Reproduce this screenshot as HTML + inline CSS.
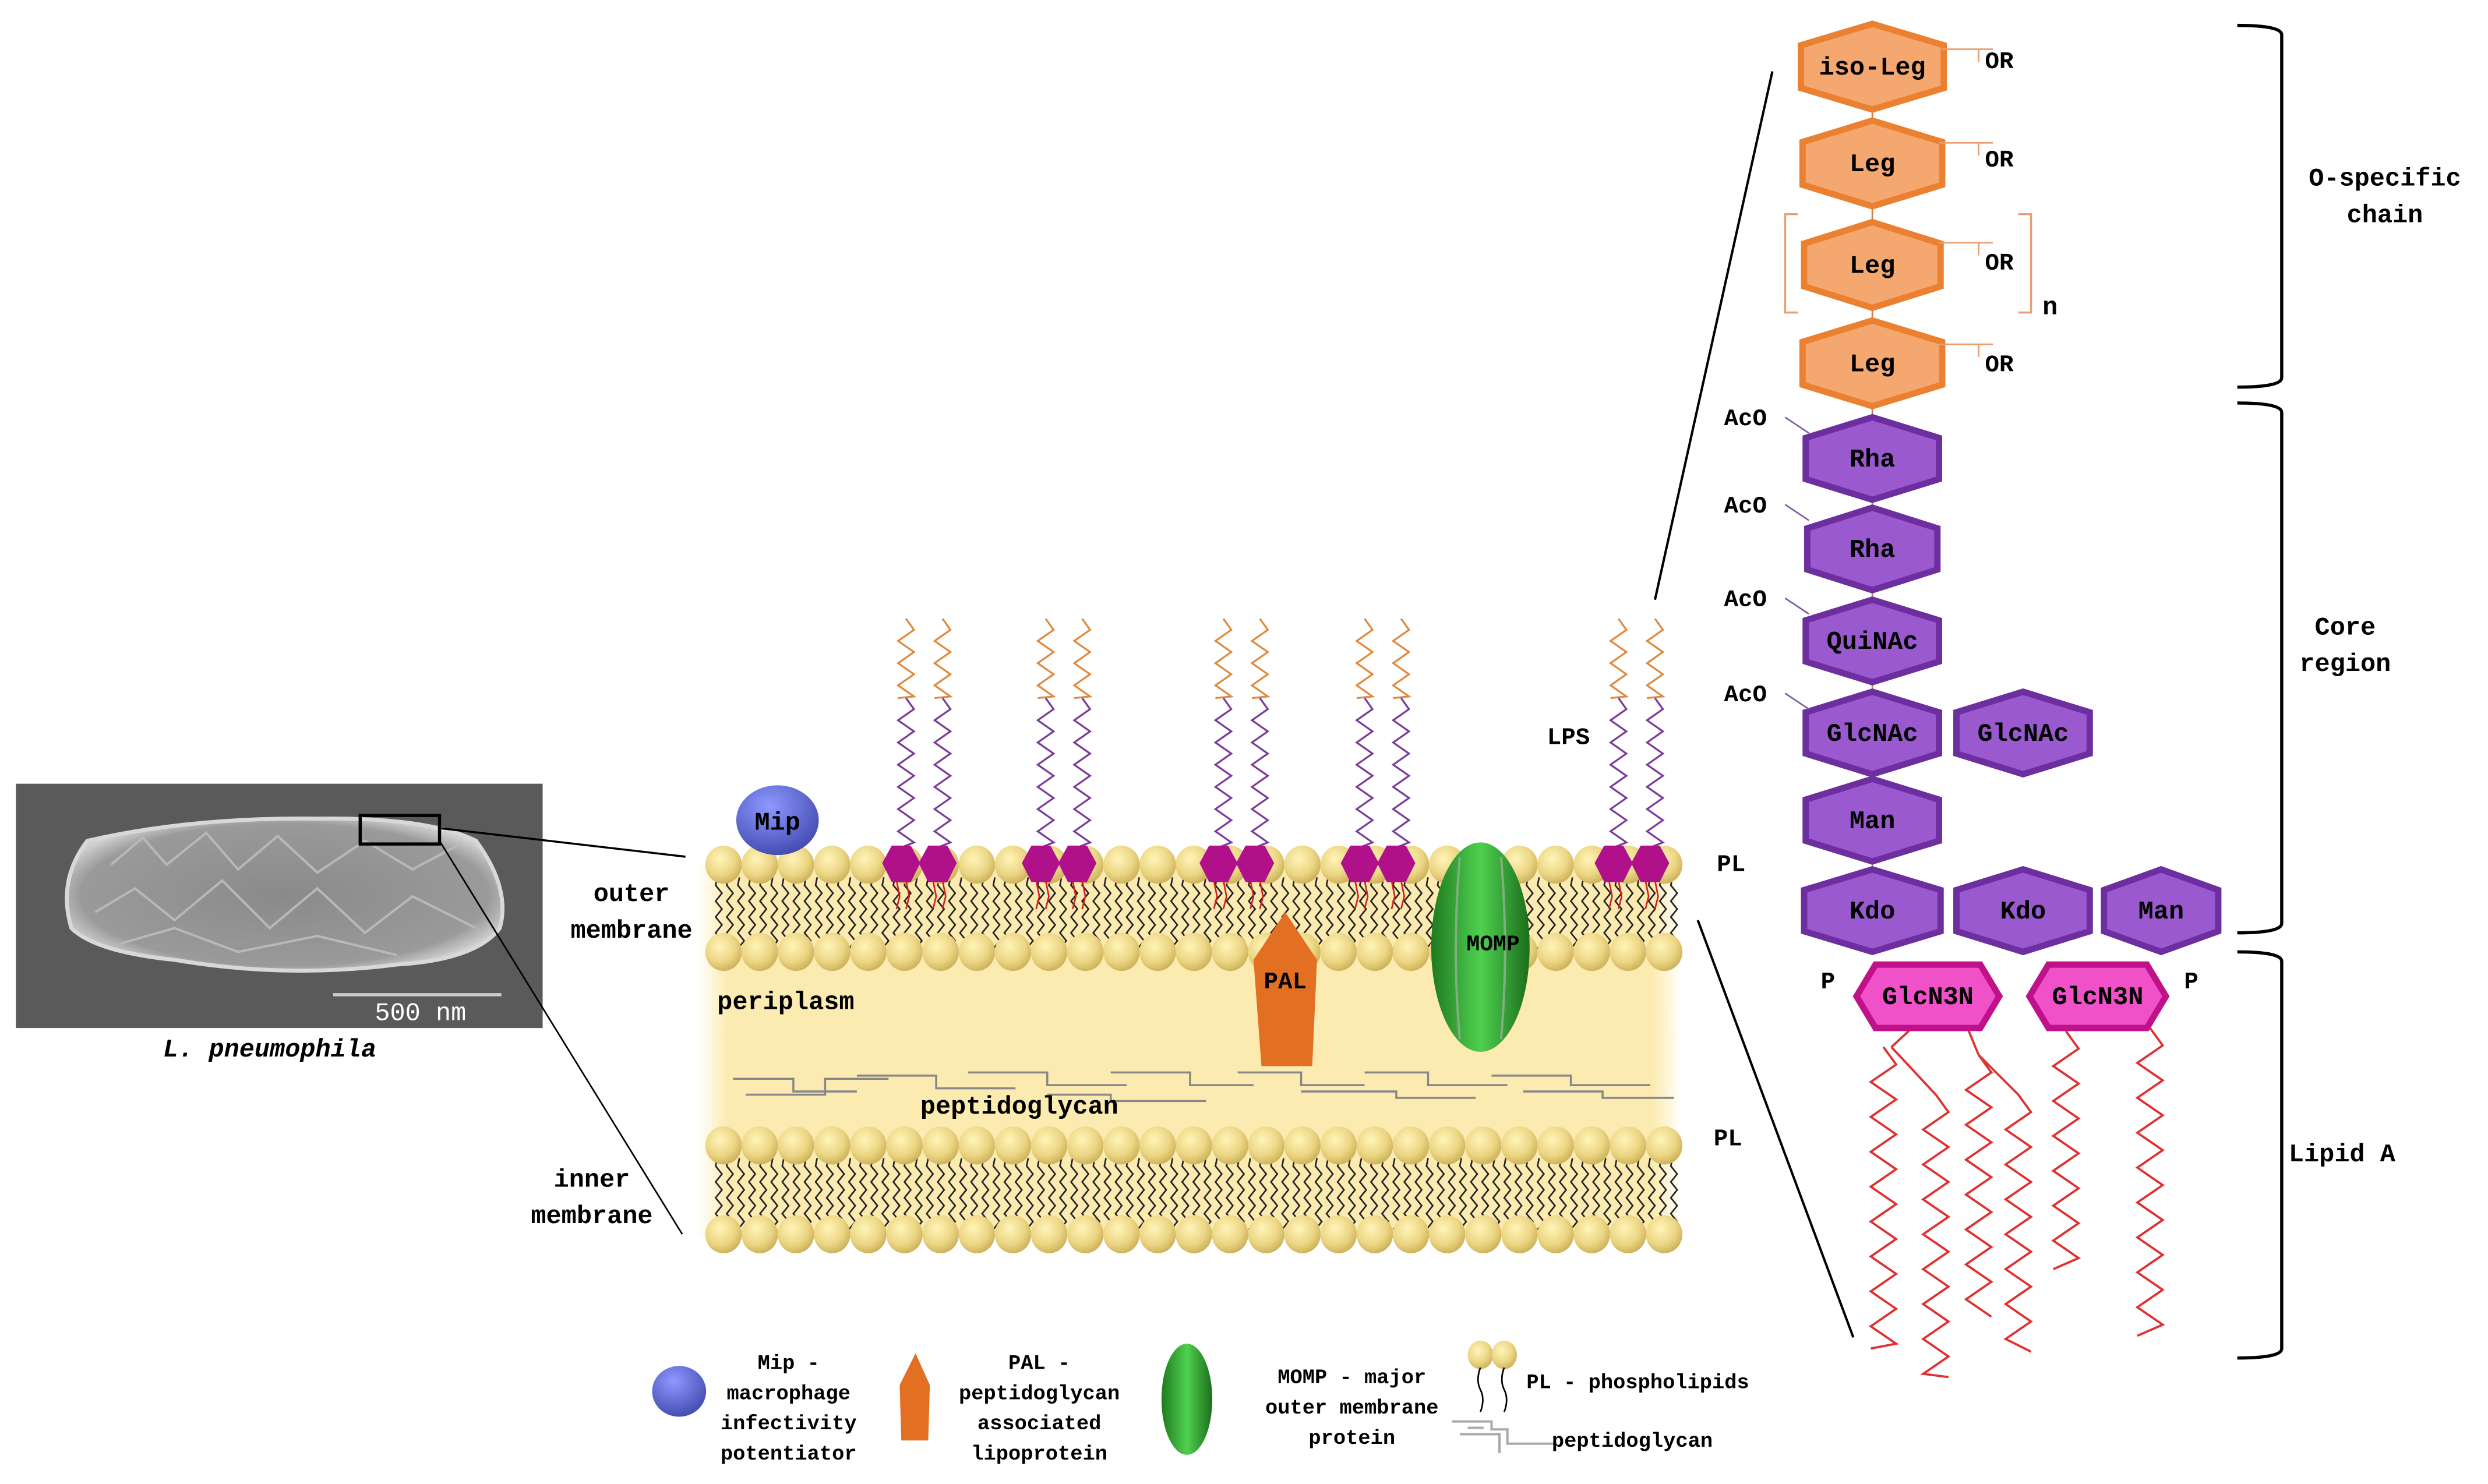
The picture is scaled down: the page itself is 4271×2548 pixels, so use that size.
<!DOCTYPE html>
<html><head><meta charset="utf-8"><style>
html,body{margin:0;padding:0;background:#fff}
svg{display:block}
text{font-family:"Liberation Mono","DejaVu Sans Mono",monospace;fill:#000}
.b{font-weight:bold}
</style></head><body>
<svg id="s" xmlns="http://www.w3.org/2000/svg" width="4271" height="2548" viewBox="0 0 1568 935.4">
<defs>
<radialGradient id="bead" cx="0.4" cy="0.35" r="0.7"><stop offset="0" stop-color="#fff4b8"/><stop offset="0.6" stop-color="#ecd684"/><stop offset="1" stop-color="#c9ad55"/></radialGradient>
<radialGradient id="mip" cx="0.4" cy="0.3" r="0.8"><stop offset="0" stop-color="#8e98ff"/><stop offset="1" stop-color="#3a44a8"/></radialGradient>
<linearGradient id="momp" x1="0" x2="1"><stop offset="0" stop-color="#1f7a1f"/><stop offset="0.5" stop-color="#4fd04f"/><stop offset="1" stop-color="#1c6e1c"/></linearGradient>
<linearGradient id="peri" x1="0" x2="1"><stop offset="0" stop-color="#fff"/><stop offset="0.03" stop-color="#fcebb0"/><stop offset="0.97" stop-color="#fcebb0"/><stop offset="1" stop-color="#fff"/></linearGradient>
<radialGradient id="bac" cx="0.5" cy="0.5" r="0.55"><stop offset="0" stop-color="#8a8a8a"/><stop offset="0.85" stop-color="#9a9a9a"/><stop offset="1" stop-color="#d0d0d0"/></radialGradient>
</defs>
<!-- micrograph -->
<rect x="10" y="494" width="332" height="154" fill="#5a5a5a"/>
<path d="M55,530 Q120,515 200,516 Q270,515 300,530 Q322,560 315,585 Q300,605 250,608 Q180,617 110,605 Q60,600 45,585 Q36,555 55,530 Z" fill="url(#bac)" stroke="#d8d8d8" stroke-width="2.5"/>
<path d="M70,545 L90,528 L105,545 L130,525 L150,548 L175,527 L200,550 L230,530 L260,548 L290,532 M60,575 L85,560 L110,580 L140,555 L170,585 L200,560 L230,588 L260,565 L300,585 M75,595 L110,585 L150,600 L200,590 L250,602" stroke="#b8b8b8" stroke-width="1.5" fill="none"/>
<rect x="227" y="514" width="50" height="18" fill="none" stroke="#000" stroke-width="2"/>
<line x1="210" y1="627" x2="316" y2="627" stroke="#ccc" stroke-width="2"/>
<text x="265" y="643" font-size="16" fill="#fff" style="fill:#fff" text-anchor="middle">500 nm</text>
<text x="170" y="666" font-size="16" font-style="italic" class="b" text-anchor="middle">L. pneumophila</text>
<line x1="277" y1="522" x2="432" y2="540" stroke="#000" stroke-width="1.3"/>
<line x1="277" y1="530" x2="430" y2="778" stroke="#000" stroke-width="1"/>
<!-- membrane -->
<rect x="440" y="545" width="620" height="235" fill="url(#peri)"/>
<g id="mem"></g>
<text x="398" y="568" font-size="16" class="b" text-anchor="middle">outer</text>
<text x="398" y="591" font-size="16" class="b" text-anchor="middle">membrane</text>
<text x="452" y="636" font-size="16" class="b">periplasm</text>
<text x="580" y="702" font-size="16" class="b">peptidoglycan</text>
<text x="373" y="748" font-size="16" class="b" text-anchor="middle">inner</text>
<text x="373" y="771" font-size="16" class="b" text-anchor="middle">membrane</text>
<text x="1082" y="549" font-size="15" class="b">PL</text>
<text x="1080" y="722" font-size="15" class="b">PL</text>
<text x="975" y="469" font-size="15" class="b">LPS</text>
<line x1="1043" y1="378" x2="1117" y2="45" stroke="#000" stroke-width="1.5"/>
<line x1="1070" y1="580" x2="1168" y2="843" stroke="#000" stroke-width="1.5"/>
<g id="chain"></g>
<!-- braces -->
<path d="M1410,16 Q1438,16 1438,22 L1438,238 Q1438,244 1410,244" stroke="#000" stroke-width="2" fill="none"/>
<path d="M1410,254 Q1438,254 1438,260 L1438,582 Q1438,588 1410,588" stroke="#000" stroke-width="2" fill="none"/>
<path d="M1410,600 Q1438,600 1438,606 L1438,850 Q1438,856 1410,856" stroke="#000" stroke-width="2" fill="none"/>
<text x="1503" y="117" font-size="16" class="b" text-anchor="middle">O-specific</text>
<text x="1503" y="140" font-size="16" class="b" text-anchor="middle">chain</text>
<text x="1478" y="400" font-size="16" class="b" text-anchor="middle">Core</text>
<text x="1478" y="423" font-size="16" class="b" text-anchor="middle">region</text>
<text x="1476" y="732" font-size="16" class="b" text-anchor="middle">Lipid A</text>
<!-- legend -->
<ellipse cx="428" cy="877" rx="17" ry="16" fill="url(#mip)"/>
<polygon points="577,853 586,873 585,908 568,908 567,873" fill="#e36f22"/>
<ellipse cx="748" cy="882" rx="16" ry="35" fill="url(#momp)"/>
<g font-size="13" class="b" text-anchor="middle">
<text x="497" y="863" class="b">Mip -</text><text x="497" y="882" class="b">macrophage</text><text x="497" y="901" class="b">infectivity</text><text x="497" y="920" class="b">potentiator</text>
<text x="655" y="863" class="b">PAL -</text><text x="655" y="882" class="b">peptidoglycan</text><text x="655" y="901" class="b">associated</text><text x="655" y="920" class="b">lipoprotein</text>
<text x="852" y="872" class="b">MOMP - major</text><text x="852" y="891" class="b">outer membrane</text><text x="852" y="910" class="b">protein</text>
</g>
<ellipse cx="933" cy="854" rx="8" ry="9" fill="url(#bead)"/><ellipse cx="948" cy="854" rx="8" ry="9" fill="url(#bead)"/>
<path d="M933,862 q-3,8 0,14 q3,6 0,14 M948,862 q-3,8 0,14 q3,6 0,14" stroke="#000" fill="none"/>
<path d="M915,896 L940,896 L940,901 L950,901 L950,910 L980,910 M920,904 L945,904 L945,916 M925,900 L935,900" stroke="#aaa" stroke-width="1.5" fill="none"/>
<text x="962" y="875" font-size="13" class="b">PL - phospholipids</text>
<text x="978" y="912" font-size="13" class="b">peptidoglycan</text>
</svg>
<script>
var NS="http://www.w3.org/2000/svg";
function el(p,t,a){var e=document.createElementNS(NS,t);for(var k in a)e.setAttribute(k,a[k]);p.appendChild(e);return e;}
function zz(x,y0,y1,a,s){var d="M"+x+","+y0,y=y0,i=0;while(y<y1){y+=s;i++;d+=" L"+(x+(i%2?a:-a))+","+Math.min(y,y1);}return d;}
var mem=document.getElementById("mem");
function tails(yA,yB){for(var x=452;x<1056;x+=7){var d="M"+x+","+yA;for(var y=yA,i=0;y<yB;y+=5,i++){d+=" L"+(x+(i%2?3:-1))+","+(y+5);}el(mem,"path",{d:d,stroke:"#222","stroke-width":"1",fill:"none"});}}
tails(553,595);tails(730,772);
var pg=[[462,680,500,688,540],[470,690,520,680,560],[540,678,590,686,640],[610,676,660,684,710],[660,690,700,694,760],[700,676,750,684,790],[780,676,820,684,860],[820,688,880,692,930],[860,676,900,684,950],[940,678,990,684,1040],[960,688,1010,692,1055]];
pg.forEach(function(p){el(mem,"path",{d:"M"+p[0]+","+p[1]+" L"+p[2]+","+p[1]+" L"+p[2]+","+p[3]+" L"+p[4]+","+p[3],stroke:"#888","stroke-width":"1.3",fill:"none"});});
function row(y){for(var x=456;x<=1064;x+=22.8)el(mem,"ellipse",{cx:x,cy:y,rx:11.5,ry:12,fill:"url(#bead)"});}
row(545);row(600);row(722);row(778);
var lps=[568,656,768,857,1017];
lps.forEach(function(c){[c,c+23].forEach(function(x){
 el(mem,"path",{d:zz(x+3,390,440,5,7),stroke:"#e08a40","stroke-width":"1.2",fill:"none"});
 el(mem,"path",{d:zz(x+3,440,535,5,7),stroke:"#7a3d9a","stroke-width":"1.2",fill:"none"});
 el(mem,"path",{d:"M"+(x-3)+",555 l2,10 l-2,8 M"+(x+3)+",555 l2,10 l-2,8",stroke:"#d02020","stroke-width":"1",fill:"none"});
 el(mem,"polygon",{points:[(x-12)+",544",(x-6)+",533",(x+6)+",533",(x+12)+",544",(x+6)+",556",(x-6)+",556"].join(" "),fill:"#b0108a"});
});});
el(mem,"ellipse",{cx:490,cy:517,rx:26,ry:22,fill:"url(#mip)"});
var t=el(mem,"text",{x:490,y:523,"font-size":"16","text-anchor":"middle","font-weight":"bold"});t.textContent="Mip";
el(mem,"polygon",{points:"810,575 830,605 827,672 795,672 790,605",fill:"#e36f22"});
t=el(mem,"text",{x:810,y:623,"font-size":"15","text-anchor":"middle","font-weight":"bold"});t.textContent="PAL";
el(mem,"ellipse",{cx:933,cy:597,rx:31,ry:66,fill:"url(#momp)"});
el(mem,"path",{d:"M920,540 Q915,600 920,655 M946,540 Q951,600 946,655",stroke:"#7fae7f","stroke-width":"1.5",fill:"none"});
t=el(mem,"text",{x:941,y:599,"font-size":"14","text-anchor":"middle","font-weight":"bold"});t.textContent="MOMP";
var ch=document.getElementById("chain");
el(ch,"line",{x1:1180,y1:40,x2:1180,y2:560,stroke:"#c08050","stroke-width":"1"});
function hex(cx,cy,w,h,fill,stroke,label){
 var p=[[cx,cy-h/2],[cx+w/2,cy-h/4],[cx+w/2,cy+h/4],[cx,cy+h/2],[cx-w/2,cy+h/4],[cx-w/2,cy-h/4]].map(function(q){return q.join(",");}).join(" ");
 el(ch,"polygon",{points:p,fill:fill,stroke:stroke,"stroke-width":"4"});
 var t=el(ch,"text",{x:cx,y:cy+5,"font-size":"16","font-weight":"bold","text-anchor":"middle"});t.textContent=label;}
var O="#f4a870",Os="#ea8030",P="#9b59d0",Ps="#6d2fa0",K="#f050c8",Ks="#c0108a";
hex(1180,42,90,54,O,Os,"iso-Leg");
hex(1180,103,88,54,O,Os,"Leg");hex(1180,167,86,54,O,Os,"Leg");hex(1180,229,88,54,O,Os,"Leg");
[0,1,2,3].forEach(function(i){var y=[31,90,153,217][i];el(ch,"path",{d:"M1222,"+y+" L1256,"+y+" M1247,"+y+" L1247,"+(y+8),stroke:"#e8a070","stroke-width":"1",fill:"none"});var t=el(ch,"text",{x:1260,y:[43,105,170,234][i],"font-size":"15","font-weight":"bold","text-anchor":"middle"});t.textContent="OR";});
el(ch,"path",{d:"M1133,135 L1125,135 L1125,197 L1133,197",stroke:"#e8a070","stroke-width":"1.3",fill:"none"});
el(ch,"path",{d:"M1272,135 L1280,135 L1280,197 L1272,197",stroke:"#e8a070","stroke-width":"1.3",fill:"none"});
t=el(ch,"text",{x:1292,y:198,"font-size":"16","font-weight":"bold","text-anchor":"middle"});t.textContent="n";
hex(1180,289,84,52,P,Ps,"Rha");hex(1180,346,82,52,P,Ps,"Rha");hex(1180,404,84,52,P,Ps,"QuiNAc");
hex(1180,462,84,52,P,Ps,"GlcNAc");hex(1275,462,84,52,P,Ps,"GlcNAc");
hex(1180,517,84,52,P,Ps,"Man");
hex(1180,574,86,52,P,Ps,"Kdo");hex(1275,574,84,52,P,Ps,"Kdo");hex(1362,574,72,52,P,Ps,"Man");
[263,318,377,437].forEach(function(y){var t=el(ch,"text",{x:1100,y:y+5,"font-size":"15","font-weight":"bold","text-anchor":"middle"});t.textContent="AcO";el(ch,"line",{x1:1125,y1:y,x2:1140,y2:y+10,stroke:"#8060a0"});});
var cols=[[1187,660,850],[1220,690,868],[1247,665,830],[1272,690,852],[1302,650,800],[1355,648,842]];
cols.forEach(function(c){el(ch,"path",{d:zz(c[0],c[1],c[2],8,11),stroke:"#e03030","stroke-width":"1.4",fill:"none"});});
el(ch,"path",{d:"M1192,660 L1220,690 M1247,665 L1272,690 M1205,648 L1192,660 M1240,648 L1247,665",stroke:"#e03030","stroke-width":"1.4",fill:"none"});
function hexf(cx,cy,w,h,label){var p=[[cx-w/2,cy],[cx-w/2+12,cy-h/2],[cx+w/2-12,cy-h/2],[cx+w/2,cy],[cx+w/2-12,cy+h/2],[cx-w/2+12,cy+h/2]].map(function(q){return q.join(",");}).join(" ");
 el(ch,"polygon",{points:p,fill:K,stroke:Ks,"stroke-width":"4"});var t=el(ch,"text",{x:cx,y:cy+5,"font-size":"16","font-weight":"bold","text-anchor":"middle"});t.textContent=label;}
hexf(1215,628,90,40,"GlcN3N");hexf(1322,628,86,40,"GlcN3N");
t=el(ch,"text",{x:1152,y:623,"font-size":"15","font-weight":"bold","text-anchor":"middle"});t.textContent="P";
t=el(ch,"text",{x:1381,y:623,"font-size":"15","font-weight":"bold","text-anchor":"middle"});t.textContent="P";
</script>
</body></html>
